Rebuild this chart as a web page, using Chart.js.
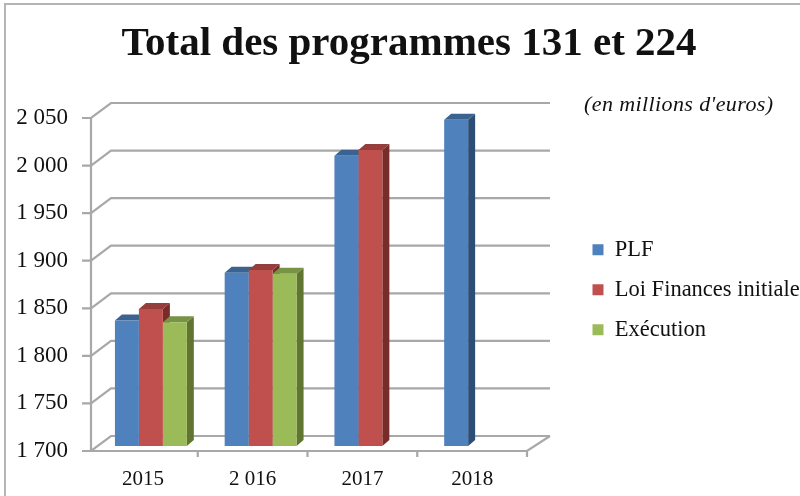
<!DOCTYPE html>
<html><head><meta charset="utf-8">
<style>html,body{margin:0;padding:0;background:#fff}canvas{display:block}</style>
<script src="https://cdn.jsdelivr.net/npm/chart.js@4"></script></head>
<body><div style="width:800px;height:496px"><canvas id="c" width="800" height="496"></canvas></div>
<script>
const categories = ['2015', '2 016', '2017', '2018'];
const plf = [1832, 1882, 2005, 2043];
const loiFinances = [1844, 1885, 2011, null];
const execution = [1830, 1881, null, null];
const titleText = 'Total des programmes 131 et 224';
const noteText = "(en millions d'euros)";
const SERIF = '"Liberation Serif", serif';
const GRID = '#a8a8a8';
const dark = {'#4f81bd':['#2c4d75','#3a6391'], '#c0504d':['#772c2a','#963e3b'], '#9bbb59':['#5f7530','#789344']};

const depth = {
  id: 'depth',
  beforeDatasetsDraw(chart) {
    const {ctx, scales:{x, y}, chartArea:a} = chart;
    const axisX = 91, backX = 111, endX = 550;
    ctx.save();
    ctx.strokeStyle = '#b5b5b5'; ctx.lineWidth = 2;
    ctx.beginPath(); ctx.moveTo(5, 496); ctx.lineTo(5, 4); ctx.lineTo(800, 4); ctx.stroke();
    ctx.strokeStyle = GRID; ctx.lineWidth = 2.2;
    y.ticks.forEach(t => {
      const p = y.getPixelForValue(t.value);
      ctx.beginPath(); ctx.moveTo(axisX - 9, p); ctx.lineTo(axisX, p); ctx.lineTo(backX, p - 15); ctx.lineTo(endX, p - 15); ctx.stroke();
    });
    ctx.beginPath(); ctx.moveTo(axisX, a.top); ctx.lineTo(axisX, a.bottom); ctx.lineTo(a.right, a.bottom); ctx.lineTo(endX, a.bottom - 15); ctx.stroke();
    for (let i = 1; i <= categories.length; i++) {
      const px = a.left + i * a.width / categories.length;
      ctx.beginPath(); ctx.moveTo(px, a.bottom); ctx.lineTo(px, a.bottom + 6); ctx.stroke();
    }
    ctx.restore();
    ctx.save();
    ctx.translate(8, -5);
    // side and top faces first, left to right; the library's bars then cover what lies behind them
    chart.data.datasets.forEach((ds, k) => {
      const [side, top] = dark[ds.backgroundColor];
      chart.getDatasetMeta(k).data.forEach((b, i) => {
        if (ds.data[i] == null) return;
        const p = b.getProps(['x', 'y', 'width'], true);
        const l = p.x - p.width / 2, r = p.x + p.width / 2, dx = 7, dy = 6;
        ctx.fillStyle = side;
        ctx.beginPath(); ctx.moveTo(r, p.y); ctx.lineTo(r + dx, p.y - dy); ctx.lineTo(r + dx, a.bottom - dy); ctx.lineTo(r, a.bottom); ctx.fill();
        ctx.fillStyle = top;
        ctx.beginPath(); ctx.moveTo(l, p.y); ctx.lineTo(l + dx, p.y - dy); ctx.lineTo(r + dx, p.y - dy); ctx.lineTo(r, p.y); ctx.fill();
      });
    });
  },
  afterDatasetsDraw(chart) { chart.ctx.restore(); },
  beforeDraw(chart) {
    const l = chart.legend;
    l.left = 575; l.right = 800; l.top = 221; l.bottom = 480;
  },
  afterDraw(chart) {
    const {ctx} = chart;
    ctx.save();
    ctx.fillStyle = '#111';
    ctx.textBaseline = 'middle';
    ctx.textAlign = 'center';
    ctx.font = 'bold 41px ' + SERIF;
    ctx.fillText(titleText, 409, 44);
    ctx.textAlign = 'left';
    ctx.font = 'italic 22px ' + SERIF;
    ctx.letterSpacing = '0.4px';
    ctx.fillText(noteText, 584, 105);
    ctx.restore();
  }
};

new Chart(document.getElementById('c'), {
  type: 'bar',
  data: {
    labels: categories,
    datasets: [
      {label: 'PLF', data: plf, backgroundColor: '#4f81bd'},
      {label: 'Loi Finances initiale', data: loiFinances, backgroundColor: '#c0504d'},
      {label: 'Exécution', data: execution, backgroundColor: '#9bbb59'}
    ]
  },
  options: {
    responsive: false,
    animation: false,
    layout: {padding: {left: 0, top: 118, right: 273, bottom: 0}},
    datasets: {bar: {categoryPercentage: 0.655, barPercentage: 1}},
    plugins: {
      tooltip: {enabled: false},
      legend: {
        position: 'chartArea', align: 'start',
        labels: {boxWidth: 11, boxHeight: 11, padding: 17.5, color: '#111', font: {family: SERIF, size: 22.5}}
      }
    },
    scales: {
      x: {
        grid: {display: false}, border: {display: false},
        ticks: {color: '#111', padding: 8, maxRotation: 0, font: {family: SERIF, size: 21}},
        afterFit(s) { s.height = 45; }
      },
      y: {
        min: 1700, max: 2050,
        grid: {display: false}, border: {display: false},
        ticks: {
          stepSize: 50, color: '#111', padding: 12,
          font: {family: SERIF, size: 23},
          callback: v => String(v).replace(/(\d)(\d{3})$/, '$1 $2')
        },
        afterFit(s) { s.width = 88; }
      }
    }
  },
  plugins: [depth]
});
</script></body></html>
